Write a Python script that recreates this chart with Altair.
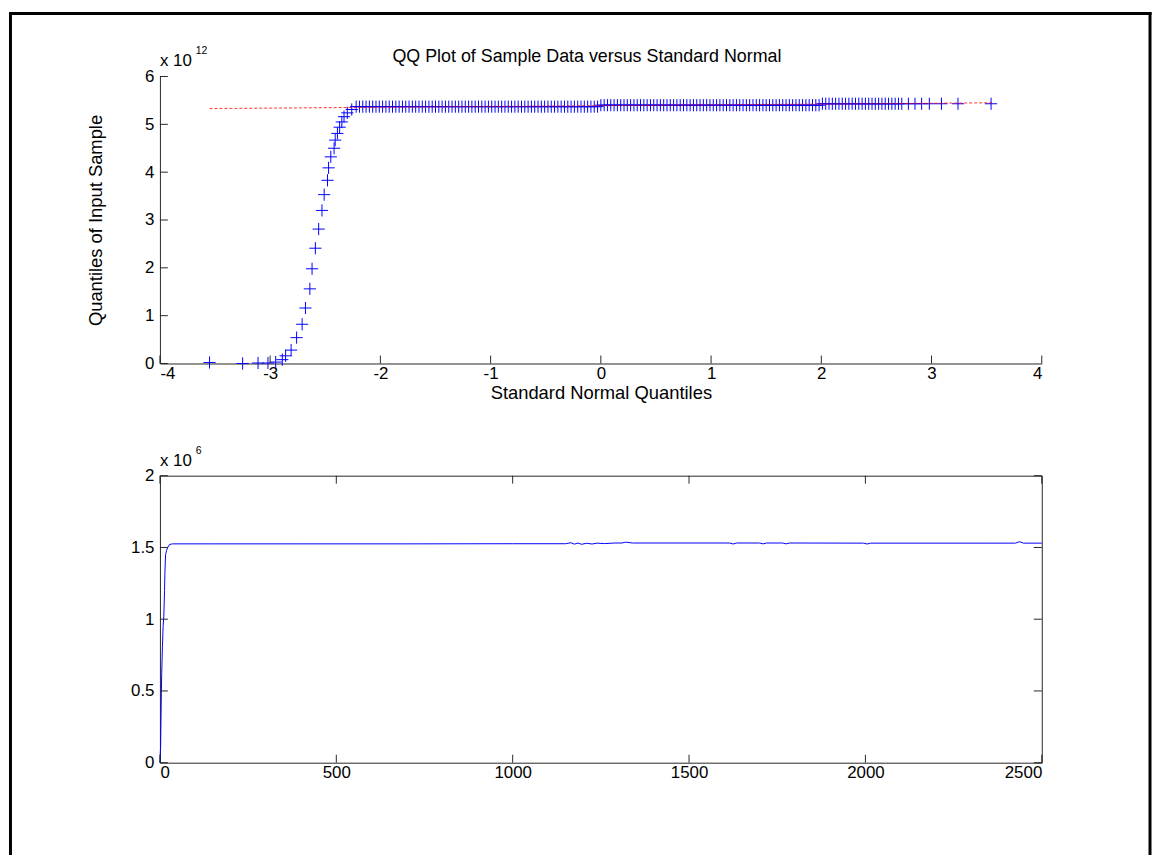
import altair as alt
import pandas as pd

FONT = "Liberation Sans"
AX = "#262626"
BLUE = "#0000ff"

# ---------------- top panel: QQ plot (sample values in units of 1e12) ----------------
qq_tail_x = [-3.55, -3.25, -3.11, -3.02, -2.95, -2.89, -2.86, -2.81, -2.76, -2.71,
             -2.68, -2.64, -2.62, -2.59, -2.56, -2.53, -2.51, -2.48, -2.47, -2.45,
             -2.42, -2.41, -2.39, -2.37, -2.35, -2.33, -2.30, -2.26]
qq_tail_y = [0.02, 0.0, 0.01, 0.01, 0.03, 0.08, 0.16, 0.28, 0.54, 0.82,
             1.16, 1.56, 1.98, 2.41, 2.81, 3.20, 3.53, 3.83, 4.09, 4.32,
             4.50, 4.67, 4.81, 4.94, 5.05, 5.16, 5.24, 5.31]
qq_band_x = [-2.22, -2.19, -2.16, -2.13, -2.10, -2.07, -2.04, -2.01, -1.98, -1.95,
             -1.92, -1.89, -1.86, -1.83, -1.80, -1.77, -1.74, -1.71, -1.68, -1.65,
             -1.62, -1.59, -1.56, -1.53, -1.50, -1.47, -1.44, -1.41, -1.38, -1.35,
             -1.32, -1.29, -1.26, -1.23, -1.20, -1.17, -1.14, -1.11, -1.08, -1.05,
             -1.02, -0.99, -0.96, -0.93, -0.90, -0.87, -0.84, -0.81, -0.78, -0.75,
             -0.72, -0.69, -0.66, -0.63, -0.60, -0.57, -0.54, -0.51, -0.48, -0.45,
             -0.42, -0.39, -0.36, -0.33, -0.30, -0.27, -0.24, -0.21, -0.18, -0.15,
             -0.12, -0.09, -0.06, -0.03, 0.00, 0.03, 0.06, 0.09, 0.12, 0.15,
             0.18, 0.21, 0.24, 0.27, 0.30, 0.33, 0.36, 0.39, 0.42, 0.45,
             0.48, 0.51, 0.54, 0.57, 0.60, 0.63, 0.66, 0.69, 0.72, 0.75,
             0.78, 0.81, 0.84, 0.87, 0.90, 0.93, 0.96, 0.99, 1.02, 1.05,
             1.08, 1.11, 1.14, 1.17, 1.20, 1.23, 1.26, 1.29, 1.32, 1.35,
             1.38, 1.41, 1.44, 1.47, 1.50, 1.53, 1.56, 1.59, 1.62, 1.65,
             1.68, 1.71, 1.74, 1.77, 1.80, 1.83, 1.86, 1.89, 1.92, 1.95,
             1.98, 2.01, 2.04, 2.07, 2.10, 2.13, 2.16, 2.19, 2.22, 2.25,
             2.28, 2.31, 2.34, 2.37, 2.40, 2.43, 2.46, 2.49, 2.52, 2.55,
             2.58, 2.61, 2.64, 2.67, 2.70]
qq_band_breaks = [0.0, 2.0]          # quantiles where the flat level steps up
qq_band_levels = [5.37, 5.40, 5.43]  # level of each flat segment
qq_upper_x = [2.73, 2.79, 2.85, 2.91, 2.98, 3.09, 3.24, 3.54]
qq_upper_y = [5.43, 5.43, 5.43, 5.43, 5.43, 5.43, 5.43, 5.43]
qq_line_x = [-3.55, 3.55]
qq_line_y = [5.33, 5.45]
top_xticks = [-4, -3, -2, -1, 0, 1, 2, 3, 4]
top_yticks = [0, 1, 2, 3, 4, 5, 6]

# ---------------- bottom panel: series (values in units of 1e6) ----------------
ts_t = [0, 2, 3, 4, 5, 7, 9, 11, 13, 14,
        16, 19, 22, 27, 35, 150, 400, 700, 1000, 1150,
        1165, 1175, 1185, 1195, 1210, 1225, 1240, 1260, 1290, 1310,
        1320, 1340, 1500, 1615, 1625, 1635, 1700, 1710, 1720, 1765,
        1775, 1785, 1995, 2005, 2015, 2200, 2350, 2425, 2437, 2448,
        2500]
ts_v = [0.0, 0.12, 0.3, 0.48, 0.62, 0.8, 0.95, 1.02, 1.2, 1.32,
        1.45, 1.48, 1.5, 1.52, 1.525, 1.525, 1.525, 1.525, 1.526, 1.526,
        1.533, 1.523, 1.531, 1.522, 1.529, 1.524, 1.530, 1.527, 1.531, 1.531,
        1.537, 1.531, 1.531, 1.531, 1.524, 1.531, 1.531, 1.525, 1.531, 1.531,
        1.525, 1.531, 1.530, 1.524, 1.530, 1.530, 1.530, 1.530, 1.540, 1.530,
        1.530]
bot_xticks = [0, 500, 1000, 1500, 2000, 2500]
bot_yticks = [0, 0.5, 1, 1.5, 2]

W, H = 888, 289
TICK = 8
LBL = 17


def band_level(q):
    if q < qq_band_breaks[0]:
        return qq_band_levels[0]
    if q < qq_band_breaks[1]:
        return qq_band_levels[1]
    return qq_band_levels[2]


pts = pd.DataFrame({
    "q": qq_tail_x + qq_band_x + qq_upper_x,
    "v": qq_tail_y + [band_level(q) for q in qq_band_x] + qq_upper_y,
})
fit = pd.DataFrame({"q": qq_line_x, "v": qq_line_y})


def txt(s, x, y, size, align="left"):
    return alt.Chart(pd.DataFrame({"s": [s]})).mark_text(
        font=FONT, fontSize=size, align=align, baseline="alphabetic", color="black"
    ).encode(text="s:N", x=alt.value(x), y=alt.value(y))


def bar(x1, x2, y1, y2):
    return alt.Chart(pd.DataFrame({"k": [0]})).mark_rect(color="black").encode(
        x=alt.value(x1), x2=alt.value(x2), y=alt.value(y1), y2=alt.value(y2))


PLAIN = "'' + datum.value"
xs_top = alt.Scale(domain=[-4, 4], nice=False, zero=False)
ys_top = alt.Scale(domain=[0, 6], nice=False, zero=False)
ax_top_x = alt.Axis(values=top_xticks, title="Standard Normal Quantiles", ticks=False,
                    grid=False, domainColor=AX, labelPadding=2, titlePadding=2,
                    labelExpr=PLAIN, titleFontSize=18.5)
ax_top_y = alt.Axis(values=top_yticks, title="Quantiles of Input Sample", ticks=False,
                    grid=False, domainColor=AX, labelPadding=6, titlePadding=39,
                    labelExpr=PLAIN, titleFontSize=18.5)

plus = "M-1,0L1,0M0,-1L0,1"
markers = alt.Chart(pts).mark_point(
    shape=plus, size=150, filled=False, color=BLUE, strokeWidth=1, opacity=1
).encode(
    x=alt.X("q:Q", scale=xs_top, axis=ax_top_x),
    y=alt.Y("v:Q", scale=ys_top, axis=ax_top_y),
)
fit_line = alt.Chart(fit).mark_line(color="#ff0000", strokeWidth=1, strokeDash=[3, 2],
                                    opacity=0.8).encode(
    x=alt.X("q:Q", scale=xs_top, axis=ax_top_x), y=alt.Y("v:Q", scale=ys_top, axis=ax_top_y)
)
top_xt = alt.Chart(pd.DataFrame({"q": top_xticks})).mark_rule(color=AX).encode(
    x=alt.X("q:Q", scale=xs_top, axis=ax_top_x), y=alt.value(H), y2=alt.value(H - TICK)
)
top_yt = alt.Chart(pd.DataFrame({"v": top_yticks})).mark_rule(color=AX).encode(
    y=alt.Y("v:Q", scale=ys_top, axis=ax_top_y), x=alt.value(0), x2=alt.value(TICK)
)

top = alt.layer(
    bar(-152, -149, -65, 784),          # figure frame: left
    bar(-152, 998.5, -65, -62),         # figure frame: top
    bar(995.5, 998.5, -65, 784),        # figure frame: right
    markers, fit_line, top_xt, top_yt,
    txt("QQ Plot of Sample Data versus Standard Normal", 430, -15, 18, "center"),
    txt("x 10", 0, -11, LBL),
    txt("12", 36, -23, 10.5),
).properties(width=W, height=H, view=alt.ViewBackground(stroke="transparent"))

# bottom panel
ts = pd.DataFrame({"t": ts_t, "v": ts_v})
xs_b = alt.Scale(domain=[0, 2500], nice=False, zero=False)
ys_b = alt.Scale(domain=[0, 2], nice=False, zero=False)
ax_b_x = alt.Axis(values=bot_xticks, title=None, ticks=False, grid=False, domain=False,
                  labelPadding=2, labelExpr=PLAIN)
ax_b_y = alt.Axis(values=bot_yticks, title=None, ticks=False, grid=False, domain=False,
                  labelPadding=6, labelExpr=PLAIN)
line = alt.Chart(ts).mark_line(color=BLUE, strokeWidth=1).encode(
    x=alt.X("t:Q", scale=xs_b, axis=ax_b_x),
    y=alt.Y("v:Q", scale=ys_b, axis=ax_b_y),
)
bxd = pd.DataFrame({"t": bot_xticks})
byd = pd.DataFrame({"v": bot_yticks})
b_xt_bottom = alt.Chart(bxd).mark_rule(color=AX).encode(
    x=alt.X("t:Q", scale=xs_b, axis=ax_b_x), y=alt.value(H), y2=alt.value(H - TICK))
b_xt_top = alt.Chart(bxd).mark_rule(color=AX).encode(
    x=alt.X("t:Q", scale=xs_b, axis=ax_b_x), y=alt.value(0), y2=alt.value(TICK))
b_yt_left = alt.Chart(byd).mark_rule(color=AX).encode(
    y=alt.Y("v:Q", scale=ys_b, axis=ax_b_y), x=alt.value(0), x2=alt.value(TICK))
b_yt_right = alt.Chart(byd).mark_rule(color=AX).encode(
    y=alt.Y("v:Q", scale=ys_b, axis=ax_b_y), x=alt.value(W - TICK), x2=alt.value(W))

bottom = alt.layer(
    line, b_xt_bottom, b_xt_top, b_yt_left, b_yt_right,
    txt("x 10", 0, -10, LBL),
    txt("6", 36, -22, 10.5),
).properties(width=W, height=H)

chart = alt.vconcat(top, bottom, spacing=113, bounds="flush").properties(
    padding=0, background="white"
).configure_view(
    stroke=AX, strokeWidth=1
).configure_axis(
    labelFont=FONT, labelFontSize=LBL, labelColor="black",
    titleFont=FONT, titleFontSize=18.5, titleFontWeight="normal", titleColor="black",
    domainWidth=1,
)

chart.save("out.html", embed_options={"renderer": "svg", "actions": False})
